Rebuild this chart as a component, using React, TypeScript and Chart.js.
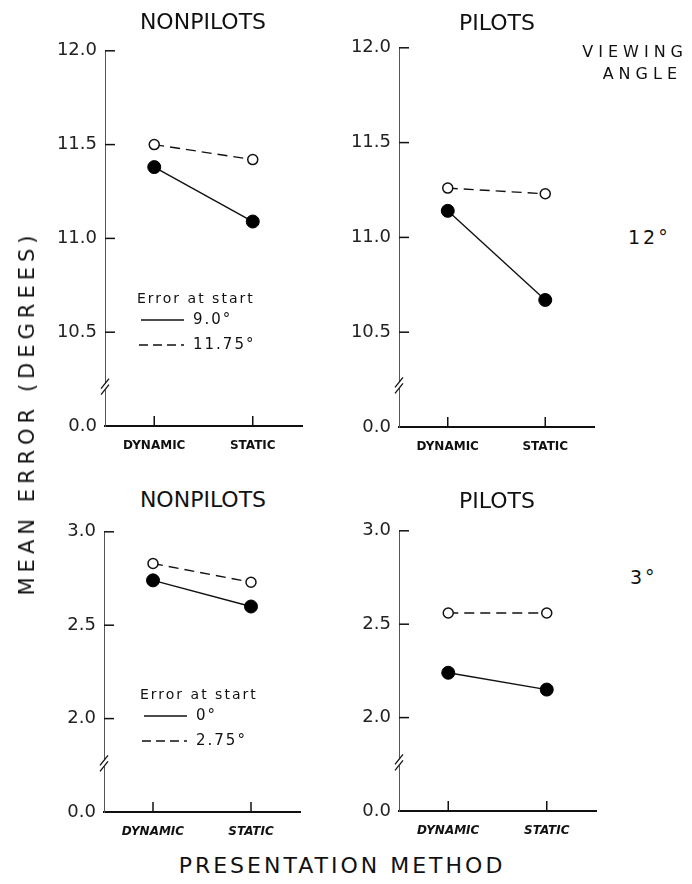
import React, { useEffect, useRef } from "react";
import { Chart, registerables } from "chart.js";

Chart.register(...registerables);

const categories = ["DYNAMIC", "STATIC"];

const nonpilots12Solid = [11.38, 11.09];
const nonpilots12Dashed = [11.5, 11.42];
const pilots12Solid = [11.14, 10.67];
const pilots12Dashed = [11.26, 11.23];

const nonpilots3Solid = [2.74, 2.6];
const nonpilots3Dashed = [2.83, 2.73];
const pilots3Solid = [2.24, 2.15];
const pilots3Dashed = [2.56, 2.56];

const topTickValues = [10.0, 10.5, 11.0, 11.5, 12.0];
const topTickLabels = ["0.0", "10.5", "11.0", "11.5", "12.0"];
const bottomTickValues = [1.5, 2.0, 2.5, 3.0];
const bottomTickLabels = ["0.0", "2.0", "2.5", "3.0"];

const FONT = "'DejaVu Sans', sans-serif";

type PanelDef = {
  left: number;
  top: number;
  right: number;
  bottom: number;
  solid: number[];
  dashed: number[];
  tickValues: number[];
  tickLabels: string[];
  breakAt: number;
  italicX: boolean;
};

const panels: PanelDef[] = [
  { left: 105, top: 46, right: 302, bottom: 426, solid: nonpilots12Solid, dashed: nonpilots12Dashed, tickValues: topTickValues, tickLabels: topTickLabels, breakAt: 10.21, italicX: false },
  { left: 399, top: 43, right: 594, bottom: 427, solid: pilots12Solid, dashed: pilots12Dashed, tickValues: topTickValues, tickLabels: topTickLabels, breakAt: 10.22, italicX: false },
  { left: 104, top: 527, right: 300, bottom: 812, solid: nonpilots3Solid, dashed: nonpilots3Dashed, tickValues: bottomTickValues, tickLabels: bottomTickLabels, breakAt: 1.76, italicX: true },
  { left: 399, top: 526, right: 596, bottom: 811, solid: pilots3Solid, dashed: pilots3Dashed, tickValues: bottomTickValues, tickLabels: bottomTickLabels, breakAt: 1.76, italicX: true },
];

const PAD_L = 75;
const PAD_T = 14;
const PAD_R = 10;
const PAD_B = 40;

function Panel({ p }: { p: PanelDef }) {
  const ref = useRef<HTMLCanvasElement | null>(null);
  const w = p.right - p.left + PAD_L + PAD_R;
  const h = p.bottom - p.top + PAD_T + PAD_B;
  useEffect(() => {
    if (!ref.current) return;
    const yMin = p.tickValues[0];
    const yMax = p.tickValues[p.tickValues.length - 1];
    const decor = {
      id: "decor",
      afterDraw(chart: any) {
        const { ctx, chartArea } = chart;
        const x = chart.scales.x;
        const y = chart.scales.y;
        ctx.save();
        ctx.strokeStyle = "#111";
        ctx.lineWidth = 1.5;
        ctx.setLineDash([]);
        p.tickValues.forEach((v) => {
          if (v === yMin) return;
          const py = y.getPixelForValue(v);
          ctx.beginPath();
          ctx.moveTo(chartArea.left, py);
          ctx.lineTo(chartArea.left + 10, py);
          ctx.stroke();
        });
        categories.forEach((_, i) => {
          const px = x.getPixelForValue(i);
          ctx.beginPath();
          ctx.moveTo(px, chartArea.bottom);
          ctx.lineTo(px, chartArea.bottom - 10);
          ctx.stroke();
        });
        const by = y.getPixelForValue(p.breakAt);
        ctx.fillStyle = "#fff";
        ctx.fillRect(chartArea.left - 2, by - 3, 4, 6);
        ctx.lineWidth = 1.3;
        [-3, 3].forEach((d) => {
          ctx.beginPath();
          ctx.moveTo(chartArea.left - 4, by + d + 5);
          ctx.lineTo(chartArea.left + 4, by + d - 5);
          ctx.stroke();
        });
        ctx.restore();
      },
    };
    const chart = new Chart(ref.current, {
      type: "line",
      data: {
        labels: categories,
        datasets: [
          {
            data: p.dashed,
            borderColor: "#111",
            borderWidth: 1.4,
            borderDash: [10, 6],
            pointRadius: 5,
            pointBorderWidth: 1.5,
            pointBackgroundColor: "#fff",
            pointBorderColor: "#111",
            fill: false,
          },
          {
            data: p.solid,
            borderColor: "#111",
            borderWidth: 1.4,
            pointRadius: 6.5,
            pointBorderWidth: 1,
            pointBackgroundColor: "#000",
            pointBorderColor: "#000",
            fill: false,
          },
        ],
      },
      options: {
        animation: false,
        responsive: false,
        maintainAspectRatio: false,
        layout: { padding: { left: 0, top: PAD_T, right: PAD_R, bottom: 0 } },
        plugins: { legend: { display: false }, tooltip: { enabled: false }, title: { display: false } },
        scales: {
          x: {
            type: "category",
            offset: true,
            grid: { display: false, drawTicks: false },
            border: { display: true, color: "#111", width: 2 },
            ticks: {
              color: "#111",
              padding: 13,
              font: { family: FONT, size: 12, weight: "bold", style: p.italicX ? "italic" : "normal" },
            },
            afterFit: (s: any) => {
              s.height = PAD_B;
            },
          },
          y: {
            type: "linear",
            min: yMin,
            max: yMax,
            grid: { display: false, drawTicks: false },
            border: { display: true, color: "#555", width: 1, dash: [3, 2] },
            afterBuildTicks: (s: any) => {
              s.ticks = p.tickValues.map((v) => ({ value: v }));
            },
            ticks: {
              color: "#222",
              padding: 8,
              font: { family: FONT, size: 18 },
              callback: (v: any) => {
                const i = p.tickValues.findIndex((t) => Math.abs(t - Number(v)) < 1e-9);
                return i >= 0 ? p.tickLabels[i] : "";
              },
            },
            afterFit: (s: any) => {
              s.width = PAD_L;
            },
          },
        },
      },
      plugins: [decor],
    } as any);
    return () => chart.destroy();
  }, []);
  return (
    <div style={{ position: "absolute", left: p.left - PAD_L, top: p.top - PAD_T, width: w, height: h }}>
      <canvas ref={ref} width={w} height={h} style={{ width: w, height: h, display: "block" }} />
    </div>
  );
}

const txt = (style: React.CSSProperties, content: string, key: string) => (
  <div key={key} style={{ position: "absolute", whiteSpace: "nowrap", color: "#111", fontFamily: FONT, ...style }}>
    {content}
  </div>
);

function Legend({ left, top, solidLabel, dashedLabel }: { left: number; top: number; solidLabel: string; dashedLabel: string }) {
  return (
    <div style={{ position: "absolute", left, top }}>
      {txt({ left: 0, top: 0, fontSize: 14, letterSpacing: 2 }, "Error at start", "t")}
      <svg style={{ position: "absolute", left: 0, top: 24, overflow: "visible" }} width={50} height={36}>
        <line x1={4} y1={6} x2={47} y2={6} stroke="#111" strokeWidth={1.5} />
        <line x1={2} y1={31} x2={47} y2={31} stroke="#111" strokeWidth={1.5} strokeDasharray="9 5" />
      </svg>
      {txt({ left: 56, top: 20, fontSize: 15, letterSpacing: 2 }, solidLabel, "s")}
      {txt({ left: 56, top: 45, fontSize: 15, letterSpacing: 2 }, dashedLabel, "d")}
    </div>
  );
}

export default function App() {
  return (
    <div style={{ position: "absolute", left: 0, top: 0, width: 692, height: 884, background: "#fff", overflow: "hidden" }}>
      {panels.map((p, i) => (
        <Panel key={i} p={p} />
      ))}
      {txt({ left: 104, width: 198, textAlign: "center", top: 9, fontSize: 22 }, "NONPILOTS", "t1")}
      {txt({ left: 399, width: 196, textAlign: "center", top: 10, fontSize: 22 }, "PILOTS", "t2")}
      {txt({ left: 104, width: 198, textAlign: "center", top: 487, fontSize: 22 }, "NONPILOTS", "t3")}
      {txt({ left: 399, width: 196, textAlign: "center", top: 488, fontSize: 22 }, "PILOTS", "t4")}
      {txt({ right: 4, top: 42, fontSize: 16, letterSpacing: 5, textAlign: "right" }, "VIEWING", "v1")}
      {txt({ right: 10, top: 64, fontSize: 16, letterSpacing: 5, textAlign: "right" }, "ANGLE", "v2")}
      {txt({ left: 628, top: 226, fontSize: 19, letterSpacing: 3 }, "12°", "a1")}
      {txt({ left: 630, top: 566, fontSize: 19, letterSpacing: 3 }, "3°", "a2")}
      {txt({ left: 177, width: 330, textAlign: "center", top: 853, fontSize: 22, letterSpacing: 3 }, "PRESENTATION METHOD", "xt")}
      <div
        style={{
          position: "absolute",
          left: 27,
          top: 413,
          transform: "translate(-50%, -50%) rotate(-90deg)",
          whiteSpace: "nowrap",
          fontFamily: FONT,
          fontSize: 21,
          letterSpacing: 5,
          color: "#111",
        }}
      >
        MEAN ERROR (DEGREES)
      </div>
      <Legend left={137} top={290} solidLabel="9.0°" dashedLabel="11.75°" />
      <Legend left={140} top={686} solidLabel="0°" dashedLabel="2.75°" />
    </div>
  );
}
